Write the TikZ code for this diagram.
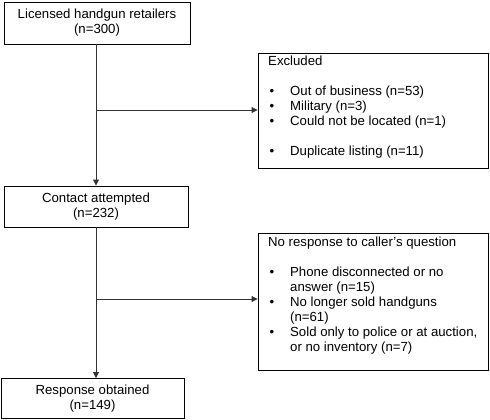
\documentclass[tikz,border=0pt]{standalone}
\usepackage{fontspec}
\setmainfont{Liberation Sans}
\usetikzlibrary{arrows.meta}
\newcommand{\bitem}[1]{\makebox[22pt][l]{\hspace{1.5pt}\textbullet}#1}
\newcommand{\bcont}[1]{\hspace*{22pt}#1}
\begin{document}
\begin{tikzpicture}[x=1pt,y=-1pt,
  box/.style={draw=black, line width=0.9pt, inner sep=0pt},
  lbl/.style={font=\fontsize{13.2}{15}\selectfont, align=center, inner sep=0pt},
  listtxt/.style={font=\fontsize{13.2}{15}\selectfont, align=left, inner sep=0pt, anchor=north west},
  conn/.style={draw=black!80, line width=0.9pt},
  arr/.style={conn, -{Triangle[length=6pt,width=6pt]}}]
\useasboundingbox (0,0) rectangle (490,420);

\node[box, lbl, minimum width=186pt, minimum height=42pt] (ret) at (97,23) {Licensed handgun retailers\\(n=300)};
\node[box, lbl, minimum width=184pt, minimum height=41pt] (con) at (96,206.5) {Contact attempted\\(n=232)};
\node[box, lbl, minimum width=183pt, minimum height=40pt] (res) at (92.5,398.5) {Response obtained\\(n=149)};

\node[box, minimum width=230pt, minimum height=115pt] (excl) at (373,110.5) {};
\node[listtxt] (exclT) at (268,55.4) {Excluded\\[15pt]
\bitem{Out of business (n=53)}\\
\bitem{Military (n=3)}\\
\bitem{Could not be located (n=1)}\\[15pt]
\bitem{Duplicate listing (n=11)}};

\node[box, minimum width=230pt, minimum height=137pt] (nor) at (373,301.5) {};
\node[listtxt] (norT) at (268,236.4) {No response to caller's question\\[15pt]
\bitem{Phone disconnected or no}\\
\bcont{answer (n=15)}\\
\bitem{No longer sold handguns}\\
\bcont{(n=61)}\\
\bitem{Sold only to police or at auction,}\\
\bcont{or no inventory (n=7)}};

\coordinate (j1) at (96,110);
\coordinate (j2) at (96,299);
\draw[arr] (j1 |- ret.south) -- (j1 |- con.north);
\draw[arr] (j1) -- (j1 -| excl.west);
\draw[arr] (j2 |- con.south) -- (j2 |- res.north);
\draw[arr] (j2) -- (j2 -| nor.west);
\end{tikzpicture}
\end{document}
